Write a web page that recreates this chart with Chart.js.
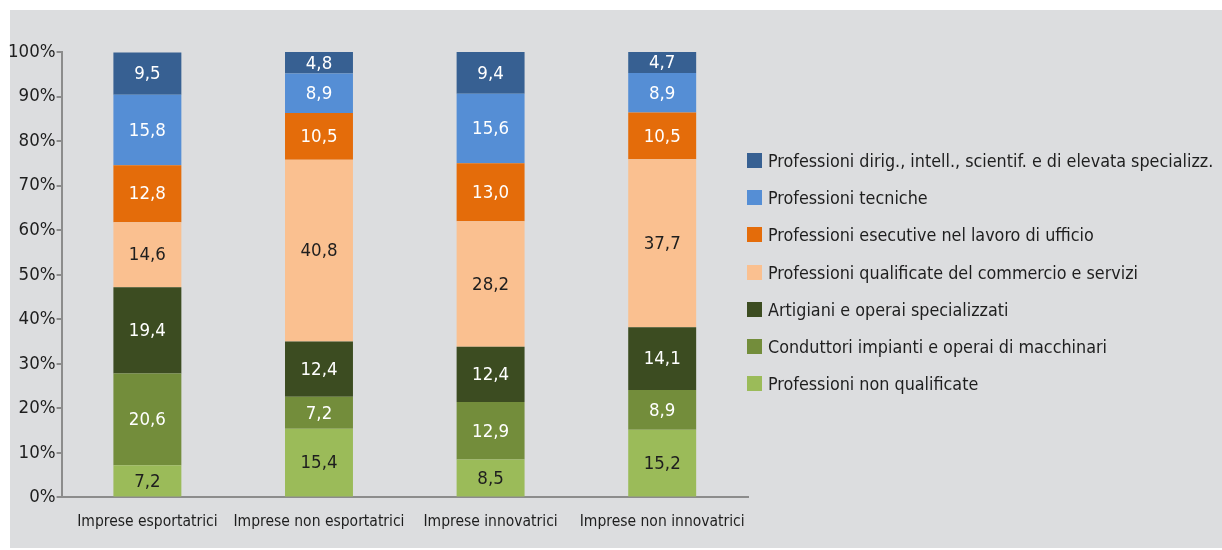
<!DOCTYPE html>
<html>
<head>
<meta charset="utf-8">
<script src="https://cdn.jsdelivr.net/npm/chart.js@4"></script>
<style>
  body { margin: 0; background: #ffffff; }
  #bg { position: absolute; left: 10px; top: 10px; width: 1212px; height: 538px; background: #dcdddf; }
  #wrap { position: absolute; left: 0; top: 0; width: 1222px; height: 550px; }
  #legend { position: absolute; left: 747px; top: 151px; margin: 0; padding: 0; list-style: none;
            font-family: 'DejaVu Sans Condensed', 'DejaVu Sans', sans-serif; font-size: 17.8px; color: #1e1e1e; white-space: nowrap; }
  #legend li { height: 37.2px; display: flex; align-items: flex-start; }
  #legend span.box { width: 15px; height: 15px; margin-top: 2px; margin-right: 6px; flex: none; }
  #legend span.txt { line-height: 19px; }
</style>
</head>
<body>
<div id="bg"></div>
<div id="wrap"><canvas id="chart"></canvas></div>
<ul id="legend"></ul>
<script>
const categories = ['Imprese esportatrici', 'Imprese non esportatrici', 'Imprese innovatrici', 'Imprese non innovatrici'];

// dal basso verso l'alto
const nonQualificate = [7.2, 15.4, 8.5, 15.2];
const conduttori = [20.6, 7.2, 12.9, 8.9];
const artigiani = [19.4, 12.4, 12.4, 14.1];
const commercioServizi = [14.6, 40.8, 28.2, 37.7];
const esecutive = [12.8, 10.5, 13.0, 10.5];
const tecniche = [15.8, 8.9, 15.6, 8.9];
const dirigenti = [9.5, 4.8, 9.4, 4.7];

const yTicks = [0, 10, 20, 30, 40, 50, 60, 70, 80, 90, 100];

const font = "'DejaVu Sans Condensed', 'DejaVu Sans', sans-serif";

const series = [
    { label: 'Professioni non qualificate', data: nonQualificate, color: '#9bbb59', text: '#1e1e1e' },
    { label: 'Conduttori impianti e operai di macchinari', data: conduttori, color: '#738d3b', text: '#ffffff' },
    { label: 'Artigiani e operai specializzati', data: artigiani, color: '#3c4c21', text: '#ffffff' },
    { label: 'Professioni qualificate del commercio e servizi', data: commercioServizi, color: '#fac090', text: '#1e1e1e' },
    { label: 'Professioni esecutive nel lavoro di ufficio', data: esecutive, color: '#e46c0a', text: '#ffffff' },
    { label: 'Professioni tecniche', data: tecniche, color: '#558ed5', text: '#ffffff' },
    { label: 'Professioni dirig., intell., scientif. e di elevata specializz.', data: dirigenti, color: '#376092', text: '#ffffff' }
];

// legenda in ordine inverso (dall'alto)
const legendEl = document.getElementById('legend');
series.slice().reverse().forEach(s => {
    const li = document.createElement('li');
    li.innerHTML = '<span class="box" style="background:' + s.color + '"></span><span class="txt"></span>';
    li.querySelector('.txt').textContent = s.label;
    legendEl.appendChild(li);
});

const segmentLabels = {
    id: 'segmentLabels',
    afterDatasetsDraw(chart) {
        const ctx = chart.ctx;
        ctx.save();
        ctx.font = '18.5px ' + font;
        ctx.textAlign = 'center';
        ctx.textBaseline = 'middle';
        chart.data.datasets.forEach((ds, i) => {
            const meta = chart.getDatasetMeta(i);
            meta.data.forEach((bar, j) => {
                const y = (bar.y + bar.base) / 2;
                ctx.fillStyle = series[i].text;
                ctx.fillText(ds.data[j].toFixed(1).replace('.', ','), bar.x, y + 1);
            });
        });
        ctx.restore();
    }
};

const ctx = document.getElementById('chart').getContext('2d');
new Chart(ctx, {
    type: 'bar',
    data: {
        labels: categories,
        datasets: series.map(s => ({
            label: s.label,
            data: s.data,
            backgroundColor: s.color,
            borderWidth: 0,
            barPercentage: 0.396,
            categoryPercentage: 1
        }))
    },
    options: {
        responsive: true,
        maintainAspectRatio: false,
        animation: false,
        layout: { padding: { top: 52, left: 7, right: 474, bottom: 12 } },
        plugins: {
            legend: { display: false },
            tooltip: { enabled: false }
        },
        scales: {
            x: {
                stacked: true,
                grid: { display: false },
                border: { display: true, color: '#8c8c8c', width: 2 },
                ticks: {
                    color: '#1e1e1e', padding: 7, autoSkip: false, maxRotation: 0, minRotation: 0,
                    font: { family: font, size: 15.5 }
                }
            },
            y: {
                stacked: true,
                min: 0,
                max: 100,
                afterBuildTicks: axis => { axis.ticks = yTicks.map(v => ({ value: v })); },
                grid: { display: true, drawOnChartArea: false, tickLength: 5, color: '#8c8c8c', lineWidth: 2 },
                border: { display: true, color: '#8c8c8c', width: 2 },
                ticks: {
                    color: '#1e1e1e',
                    padding: 1,
                    font: { family: font, size: 18.5 },
                    callback: v => v + '%'
                }
            }
        }
    },
    plugins: [segmentLabels]
});
</script>
</body>
</html>
